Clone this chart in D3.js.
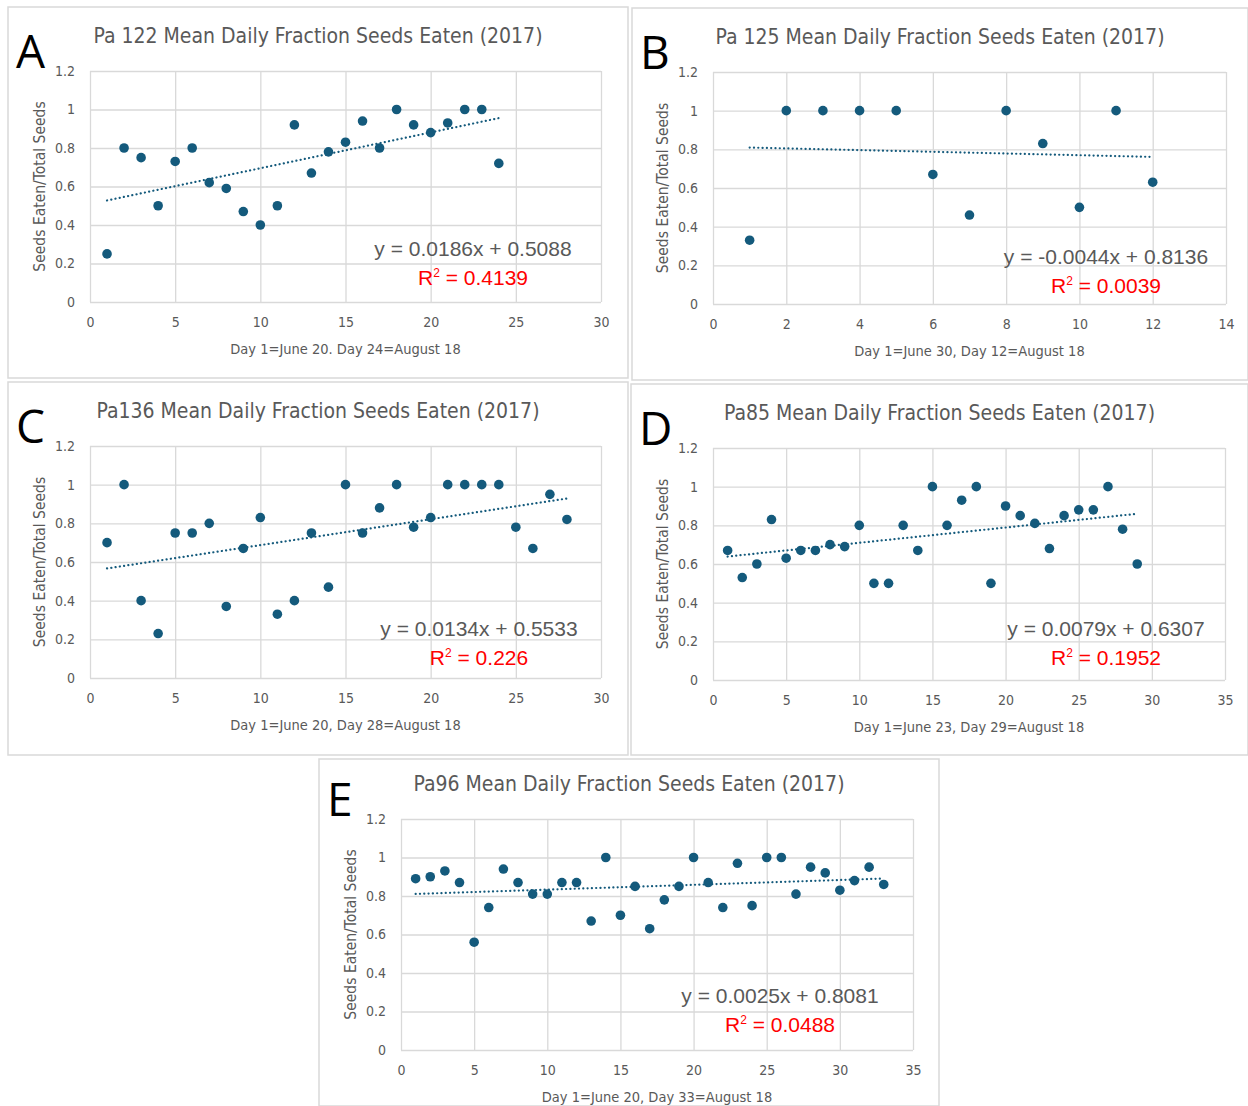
<!DOCTYPE html>
<html>
<head>
<meta charset="UTF-8">
<title>Mean Daily Fraction Seeds Eaten (2017)</title>
<script src="https://d3js.org/d3.v7.min.js"></script>
<style>
  body { margin: 0; background: #fff; }
  svg { display: block; }
  .tick text { fill: #595959; }
</style>
</head>
<body>
<svg id="chart" width="1248" height="1106"></svg>
<script>
// ---- data ----
const panelLetters = ["A", "B", "C", "D", "E"];
const titles = [
  "Pa 122 Mean Daily Fraction Seeds Eaten (2017)",
  "Pa 125 Mean Daily Fraction Seeds Eaten (2017)",
  "Pa136 Mean Daily Fraction Seeds Eaten (2017)",
  "Pa85 Mean Daily Fraction Seeds Eaten (2017)",
  "Pa96 Mean Daily Fraction Seeds Eaten (2017)"
];
const xTitles = [
  "Day 1=June 20. Day 24=August 18",
  "Day 1=June 30, Day 12=August 18",
  "Day 1=June 20, Day 28=August 18",
  "Day 1=June 23, Day 29=August 18",
  "Day 1=June 20, Day 33=August 18"
];
const yTitle = "Seeds Eaten/Total Seeds";

const daysA = [1,2,3,4,5,6,7,8,9,10,11,12,13,14,15,16,17,18,19,20,21,22,23,24];
const valsA = [0.25,0.80,0.75,0.50,0.73,0.80,0.62,0.59,0.47,0.40,0.50,0.92,0.67,0.78,0.83,0.94,0.80,1.00,0.92,0.88,0.93,1.00,1.00,0.72];

const daysB = [1,2,3,4,5,6,7,8,9,10,11,12];
const valsB = [0.33,1.00,1.00,1.00,1.00,0.67,0.46,1.00,0.83,0.50,1.00,0.63];

const daysC = [1,2,3,4,5,6,7,8,9,10,11,12,13,14,15,16,17,18,19,20,21,22,23,24,25,26,27,28];
const valsC = [0.70,1.00,0.40,0.23,0.75,0.75,0.80,0.37,0.67,0.83,0.33,0.40,0.75,0.47,1.00,0.75,0.88,1.00,0.78,0.83,1.00,1.00,1.00,1.00,0.78,0.67,0.95,0.82];

const daysD = [1,2,3,4,5,6,7,8,9,10,11,12,13,14,15,16,17,18,19,20,21,22,23,24,25,26,27,28,29];
const valsD = [0.67,0.53,0.60,0.83,0.63,0.67,0.67,0.70,0.69,0.80,0.50,0.50,0.80,0.67,1.00,0.80,0.93,1.00,0.50,0.90,0.85,0.81,0.68,0.85,0.88,0.88,1.00,0.78,0.60];

const daysE = [1,2,3,4,5,6,7,8,9,10,11,12,13,14,15,16,17,18,19,20,21,22,23,24,25,26,27,28,29,30,31,32,33];
const valsE = [0.89,0.90,0.93,0.87,0.56,0.74,0.94,0.87,0.81,0.81,0.87,0.87,0.67,1.00,0.70,0.85,0.63,0.78,0.85,1.00,0.87,0.74,0.97,0.75,1.00,1.00,0.81,0.95,0.92,0.83,0.88,0.95,0.86];

const slopes = [0.0186, -0.0044, 0.0134, 0.0079, 0.0025];
const intercepts = [0.5088, 0.8136, 0.5533, 0.6307, 0.8081];
const r2Labels = ["0.4139", "0.0039", "0.226", "0.1952", "0.0488"];

const yTicks = [0, 0.2, 0.4, 0.6, 0.8, 1, 1.2];
const xTicks30 = [0, 5, 10, 15, 20, 25, 30];
const xTicks14 = [0, 2, 4, 6, 8, 10, 12, 14];
const xTicks35 = [0, 5, 10, 15, 20, 25, 30, 35];

// ---- layout ----
const panels = [
  { days: daysA, vals: valsA, xt: xTicks30, frame: [8, 7, 620, 371],   plot: [90, 71, 511, 231],  lab: [473, 249] },
  { days: daysB, vals: valsB, xt: xTicks14, frame: [632, 8, 616, 372], plot: [713, 72, 513, 232], lab: [1106, 257] },
  { days: daysC, vals: valsC, xt: xTicks30, frame: [8, 382, 620, 373], plot: [90, 446, 511, 232], lab: [479, 629] },
  { days: daysD, vals: valsD, xt: xTicks35, frame: [631, 384, 617, 371], plot: [713, 448, 512, 232], lab: [1106, 629] },
  { days: daysE, vals: valsE, xt: xTicks35, frame: [319, 759, 620, 347], plot: [401, 819, 512, 231], lab: [780, 996] }
];

const narrow = "'Liberation Sans Narrow', 'Arial Narrow', 'DejaVu Sans Condensed', sans-serif";
const wide = "'Liberation Sans', Arial, sans-serif";
const grid = "#d9d9d9";
const dotColor = "#145a7c";
const textGray = "#595959";

const svg = d3.select("#chart");

panels.forEach((p, i) => {
  const [fx, fy, fw, fh] = p.frame;
  const [px, py, pw, ph] = p.plot;

  svg.append("rect")
    .attr("x", fx).attr("y", fy).attr("width", fw).attr("height", fh)
    .attr("fill", "#fff").attr("stroke", grid).attr("stroke-width", 1.5);

  const x = d3.scaleLinear().domain([0, d3.max(p.xt)]).range([px, px + pw]);
  const y = d3.scaleLinear().domain([0, 1.2]).range([py + ph, py]);

  const g = svg.append("g");

  // gridlines
  g.append("g")
    .attr("transform", `translate(0,${py + ph})`)
    .call(d3.axisBottom(x).tickValues(p.xt).tickSize(-ph).tickFormat(""))
    .call(a => a.select(".domain").remove())
    .call(a => a.selectAll("line").attr("stroke", grid).attr("stroke-width", 1.3));
  g.append("g")
    .attr("transform", `translate(${px},0)`)
    .call(d3.axisLeft(y).tickValues(yTicks).tickSize(-pw).tickFormat(""))
    .call(a => a.select(".domain").remove())
    .call(a => a.selectAll("line").attr("stroke", grid).attr("stroke-width", 1.3));

  // tick labels
  g.append("g")
    .attr("transform", `translate(0,${py + ph})`)
    .call(d3.axisBottom(x).tickValues(p.xt).tickSize(0).tickPadding(15).tickFormat(d3.format("d")))
    .call(a => a.select(".domain").remove())
    .call(a => a.selectAll("text").attr("font-family", narrow).attr("font-size", 14));
  g.append("g")
    .attr("transform", `translate(${px},0)`)
    .call(d3.axisLeft(y).tickValues(yTicks).tickSize(0).tickPadding(15).tickFormat(d => d3.format("")(+d.toFixed(1))))
    .call(a => a.select(".domain").remove())
    .call(a => a.selectAll("text").attr("font-family", narrow).attr("font-size", 14));

  // titles
  svg.append("text")
    .attr("x", fx + fw / 2).attr("y", py - 28)
    .attr("text-anchor", "middle")
    .attr("font-family", narrow).attr("font-size", 21)
    .attr("fill", textGray)
    .text(titles[i]);

  svg.append("text")
    .attr("x", fx + 8).attr("y", py - 3)
    .attr("font-family", "'Open Sans', sans-serif").attr("font-size", 46)
    .attr("fill", "#000")
    .text(panelLetters[i]);

  svg.append("text")
    .attr("x", px + pw / 2).attr("y", py + ph + 52)
    .attr("text-anchor", "middle")
    .attr("font-family", narrow).attr("font-size", 14.5)
    .attr("fill", textGray)
    .text(xTitles[i]);

  svg.append("text")
    .attr("transform", `translate(${px - 45},${py + ph / 2}) rotate(-90)`)
    .attr("text-anchor", "middle")
    .attr("font-family", narrow).attr("font-size", 15.5)
    .attr("fill", textGray)
    .text(yTitle);

  // trendline
  const x0 = d3.min(p.days), x1 = d3.max(p.days);
  g.append("line")
    .attr("x1", x(x0)).attr("y1", y(slopes[i] * x0 + intercepts[i]))
    .attr("x2", x(x1)).attr("y2", y(slopes[i] * x1 + intercepts[i]))
    .attr("stroke", dotColor).attr("stroke-width", 2.2)
    .attr("stroke-linecap", "round").attr("stroke-dasharray", "0.1,4.2");

  // points
  g.selectAll("circle")
    .data(p.days.map((d, k) => [d, p.vals[k]]))
    .join("circle")
    .attr("cx", d => x(d[0]))
    .attr("cy", d => y(d[1]))
    .attr("r", 4.8)
    .attr("fill", dotColor);

  // equation labels
  const sign = intercepts[i] < 0 ? "-" : "+";
  svg.append("text")
    .attr("x", p.lab[0]).attr("y", p.lab[1] + 7)
    .attr("text-anchor", "middle")
    .attr("font-family", wide).attr("font-size", 21)
    .attr("fill", textGray)
    .text(`y = ${slopes[i]}x ${sign} ${Math.abs(intercepts[i])}`);

  const r = svg.append("text")
    .attr("x", p.lab[0]).attr("y", p.lab[1] + 36)
    .attr("text-anchor", "middle")
    .attr("font-family", wide).attr("font-size", 21)
    .attr("fill", "#ff0000");
  r.append("tspan").text("R");
  r.append("tspan").attr("font-size", 12).attr("dy", -8).text("2");
  r.append("tspan").attr("dy", 8).text(" = " + r2Labels[i]);
});
</script>
</body>
</html>
